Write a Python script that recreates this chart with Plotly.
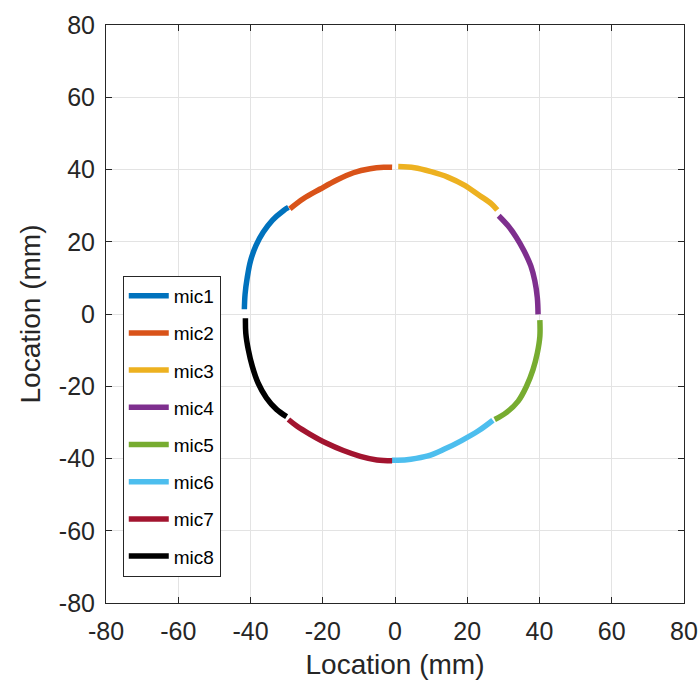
import plotly.graph_objects as go

# Microphone trace locations (mm)
mic_names = ["mic1", "mic2", "mic3", "mic4", "mic5", "mic6", "mic7", "mic8"]
mic_colors = ["#0072BD", "#D95319", "#EDB120", "#7E2F8E",
              "#77AC30", "#4DBEEE", "#A2142F", "#000000"]

mic1_x = [-41.7, -41.5, -40.9, -40.0, -38.5, -36.5, -33.9, -30.9, -29.5]
mic1_y = [1.3, 5.5, 10.1, 14.7, 18.9, 22.6, 26.0, 28.6, 29.5]
mic2_x = [-29.1, -25.4, -20.7, -16.1, -11.5, -6.9, -3.1, -0.8]
mic2_y = [29.1, 31.9, 34.6, 37.1, 39.1, 40.2, 40.6, 40.6]
mic3_x = [0.9, 5.4, 10.0, 14.6, 19.3, 23.4, 26.7, 28.3]
mic3_y = [40.8, 40.5, 39.4, 37.9, 35.6, 32.8, 30.5, 28.8]
mic4_x = [28.7, 31.3, 33.6, 35.7, 37.6, 38.7, 39.4, 39.6]
mic4_y = [27.2, 24.4, 21.2, 17.5, 13.3, 9.2, 4.5, -0.1]
mic5_x = [40.1, 40.1, 39.4, 38.2, 36.4, 34.1, 30.8, 27.6]
mic5_y = [-1.7, -6.2, -10.8, -15.4, -20.0, -24.1, -27.3, -29.2]
mic6_x = [27.1, 23.0, 18.3, 13.7, 9.1, 4.4, 0.7, -0.9]
mic6_y = [-29.4, -32.4, -35.1, -37.4, -39.3, -40.2, -40.5, -40.5]
mic7_x = [-0.8, -5.0, -9.6, -14.3, -18.9, -23.5, -27.2, -29.5]
mic7_y = [-40.6, -40.4, -39.4, -37.8, -35.8, -33.3, -31.0, -29.2]
mic8_x = [-41.4, -41.3, -40.6, -39.5, -37.9, -35.6, -32.8, -30.0]
mic8_y = [-1.2, -5.3, -9.9, -14.5, -19.1, -23.2, -26.4, -28.4]

mic_x = [mic1_x, mic2_x, mic3_x, mic4_x, mic5_x, mic6_x, mic7_x, mic8_x]
mic_y = [mic1_y, mic2_y, mic3_y, mic4_y, mic5_y, mic6_y, mic7_y, mic8_y]

tick_vals = [-80, -60, -40, -20, 0, 20, 40, 60, 80]
tick_text = ["-80", "-60", "-40", "-20", "0", "20", "40", "60", "80"]

fig = go.Figure()
for name, color, xs, ys in zip(mic_names, mic_colors, mic_x, mic_y):
    fig.add_trace(go.Scatter(
        x=xs, y=ys, mode="lines", name=name, legendgroup=name,
        line=dict(color=color, width=5.5, shape="spline", smoothing=1.0),
    ))

ink = "#262626"
axis_common = dict(
    range=[-80, 80], tickvals=tick_vals, ticktext=tick_text,
    showgrid=True, gridcolor="#E3E3E3", gridwidth=1,
    zeroline=False, showline=True, linecolor=ink, linewidth=1,
    mirror="ticks", ticks="inside", ticklen=6, tickcolor=ink,
    tickfont=dict(size=25, color=ink), automargin=False,
)

fig.update_xaxes(**axis_common, ticklabelstandoff=6,
                 title=dict(text="Location (mm)", font=dict(size=28, color=ink), standoff=10))
fig.update_yaxes(**axis_common, ticklabelstandoff=5,
                 title=dict(text="Location (mm)", font=dict(size=28, color=ink), standoff=10))

fig.update_layout(
    width=700, height=688,
    margin=dict(l=106, r=16, t=25, b=85),
    paper_bgcolor="white", plot_bgcolor="white",
    font=dict(family="Liberation Sans, Arial, sans-serif", color=ink),
    legend=dict(
        x=0.029, y=0.566, xanchor="left", yanchor="top",
        bgcolor="white", bordercolor=ink, borderwidth=1,
        font=dict(size=19, color="#000000"),
        tracegroupgap=9.5, itemwidth=40,
    ),
    showlegend=True,
)

fig.write_html("out.html")
